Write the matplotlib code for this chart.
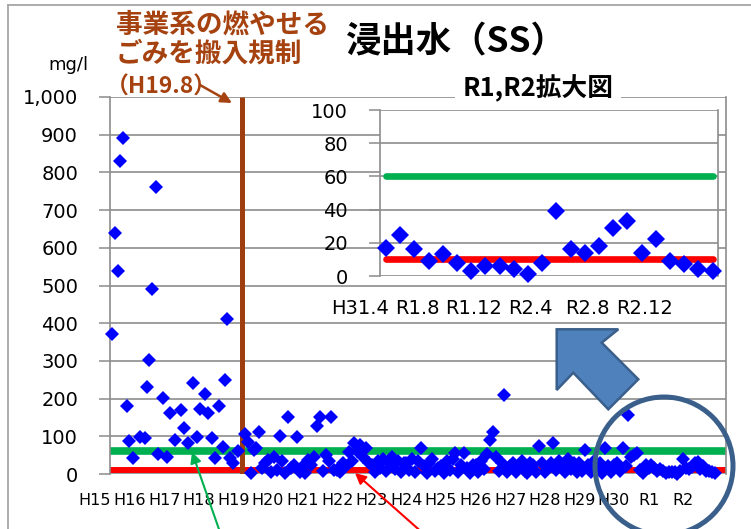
import matplotlib
matplotlib.use('Agg')
import matplotlib.pyplot as plt
from matplotlib.patches import Polygon, Circle
from matplotlib.lines import Line2D

plt.rcParams['font.family'] = ['DejaVu Sans', 'Noto Sans CJK JP']

# ---------------- data ----------------
# early samples (before the regulation), decimal fiscal year, SS mg/l
early_t = [15.49, 15.58, 15.66, 15.72, 15.81, 15.92, 15.98, 16.10, 16.30, 16.45,
           16.50, 16.56, 16.65, 16.76, 16.82, 16.97, 17.08, 17.17, 17.31, 17.49,
           17.57, 17.69, 17.83, 17.95, 18.03, 18.18, 18.27, 18.38, 18.47, 18.58,
           18.70, 18.76, 18.82, 18.90, 18.99, 19.13]
early_ss = [371, 639, 539, 830, 891, 180, 88, 42, 98, 96,
            231, 302, 490, 761, 53, 201, 45, 162, 90, 170,
            122, 82, 241, 98, 172, 212, 162, 96, 42, 180,
            72, 249, 411, 42, 29, 60]

# monthly values from H19.8 onward
regulation_t = 19.26          # H19.8 regulation (vertical line)
monthly_start = 19 + 4 / 12   # H19.8
ss_H19 = [105, 85, 3, 64, 69, 111, 15, 30]                       # Aug-Mar
ss_H20 = [37, 4, 45, 10, 101, 35, 3, 151, 16, 25, 98, 5]
ss_H21 = [20, 3, 37, 25, 45, 127, 151, 8, 50, 35, 151, 11]
ss_H22 = [11, 5, 30, 20, 58, 35, 82, 60, 77, 45, 70, 30]
ss_H23 = [24, 5, 35, 15, 40, 8, 30, 45, 12, 35, 5, 28]
ss_H24 = [30, 10, 40, 5, 35, 69, 20, 3, 30, 40, 8, 15]
ss_H25 = [20, 2, 35, 10, 40, 56, 5, 25, 56, 15, 3, 25]
ss_H26 = [25, 5, 35, 12, 53, 90, 111, 45, 8, 30, 210, 5]
ss_H27 = [20, 30, 5, 25, 35, 8, 3, 30, 25, 5, 74, 30]
ss_H28 = [5, 15, 30, 82, 10, 35, 25, 4, 40, 12, 30, 5]
ss_H29 = [30, 8, 64, 25, 5, 35, 12, 30, 3, 69, 20, 5]
ss_H30 = [25, 30, 8, 69, 20, 156, 45, 50, 56, 10, 3, 25]
# R1, R2 (H31.4 - R3.3)  -- also shown in the enlarged inset
ss_R1R2 = [17, 25, 16, 9, 13, 8, 3, 6, 6, 4, 1, 8,
           39, 16, 14, 18, 29, 33, 14, 22, 9, 7, 4, 3]

green_std = 60
red_std = 10

year_labels = ['H15', 'H16', 'H17', 'H18', 'H19', 'H20', 'H21', 'H22', 'H23',
               'H24', 'H25', 'H26', 'H27', 'H28', 'H29', 'H30', 'R1', 'R2']
year_pos = list(range(15, 33))
y_ticks = [0, 100, 200, 300, 400, 500, 600, 700, 800, 900, 1000]

inset_labels = ['H31.4', 'R1.8', 'R1.12', 'R2.4', 'R2.8', 'R2.12']
inset_label_month = [0, 4, 8, 12, 16, 20]
inset_y_ticks = [0, 20, 40, 60, 80, 100]

# ---------------- style ----------------
BLUE = '#0000FF'
GREEN = '#00B050'
RED = '#FF0000'
BROWN = '#9E3D0D'
BROWN_TXT = '#A5420F'
GRID = '#8C8C8C'
SHAPE_FILL = '#4F81BD'
SHAPE_EDGE = '#3A5F8B'

W, H = 751, 529
fig = plt.figure(figsize=(W / 100, H / 100), dpi=100)


def fr(x0, y0, x1, y1):
    return [x0 / W, 1 - y1 / H, (x1 - x0) / W, (y1 - y0) / H]


monthly = (ss_H19 + ss_H20 + ss_H21 + ss_H22 + ss_H23 + ss_H24 + ss_H25 +
           ss_H26 + ss_H27 + ss_H28 + ss_H29 + ss_H30 + ss_R1R2)
monthly_t = [monthly_start + i / 12 for i in range(len(monthly))]

# ---------------- main axes ----------------
ax = fig.add_axes(fr(110, 97, 726, 474))
ax.set_xlim(15.434, 33.237)
ax.set_ylim(0, 1000)
ax.set_yticks(y_ticks)
ax.set_yticklabels([f'{v:,}' for v in y_ticks], fontsize=14)
ax.tick_params(axis='y', length=8, width=1.1, color=GRID, pad=15)
ax.set_xticks([])
ax.grid(axis='y', color=GRID, lw=1.2, zorder=0)
ax.set_axisbelow(True)
for s in ['top', 'bottom']:
    ax.spines[s].set_visible(False)
for s in ['left', 'right']:
    ax.spines[s].set_color(GRID)
    ax.spines[s].set_linewidth(1.2)

ax.axhline(green_std, color=GREEN, lw=5.5, zorder=2)
ax.axhline(red_std, color=RED, lw=4.3, zorder=2)
ax.plot([regulation_t, regulation_t], [0, 1000], color=BROWN, lw=3.6, zorder=2,
        solid_capstyle='butt')
ax.plot(early_t, early_ss, 'D', color=BLUE, ms=7.5, mew=0, zorder=3, clip_on=False)
ax.plot(monthly_t, monthly, 'D', color=BLUE, ms=7.5, mew=0, zorder=3, clip_on=False)

xtr = ax.get_xaxis_transform()
for lab, p in zip(year_labels, year_pos):
    ax.text(p, -0.0716, lab, transform=xtr, ha='center', va='center',
            fontsize=11.5, clip_on=False)

# ---------------- inset axes ----------------
axi = fig.add_axes(fr(380, 110, 718, 276), zorder=5)
axi.set_facecolor('white')
axi.set_xlim(-0.42, 23.38)
axi.set_ylim(0, 100)
axi.set_yticks(inset_y_ticks)
axi.set_yticklabels([str(v) for v in inset_y_ticks], fontsize=14)
axi.tick_params(axis='y', length=8, width=1.1, color=GRID, pad=15)
axi.set_xticks([])
axi.grid(axis='y', color=GRID, lw=1.2, zorder=0)
axi.set_axisbelow(True)
for s in ['top', 'bottom']:
    axi.spines[s].set_visible(False)
for s in ['left', 'right']:
    axi.spines[s].set_color(GRID)
    axi.spines[s].set_linewidth(1.2)
n_in = len(ss_R1R2)
axi.plot([0, n_in - 1], [green_std, green_std], color=GREEN, lw=4.8,
         solid_capstyle='round', zorder=2)
axi.plot([0, n_in - 1], [red_std, red_std], color=RED, lw=4.8,
         solid_capstyle='round', zorder=2)
axi.plot(range(n_in), ss_R1R2, 'D', color=BLUE, ms=8.7, mew=0, zorder=3, clip_on=False)
xtri = axi.get_xaxis_transform()
for lab, m in zip(inset_labels, inset_label_month):
    axi.text(m - 1.8, -0.193, lab, transform=xtri, ha='center', va='center',
             fontsize=14, clip_on=False)

# ---------------- overlay (annotations) ----------------
ov = fig.add_axes([0, 0, 1, 1], zorder=10)
ov.set_xlim(0, W)
ov.set_ylim(H, 0)
ov.axis('off')
ov.patch.set_alpha(0)

ov.add_line(Line2D([8, 8], [5, H], color='#A6A6A6', lw=1.3))
ov.add_line(Line2D([8, W], [5, 5], color='#A6A6A6', lw=1.3))

ov.text(456, 42, '浸出水（SS）', fontsize=25.5, fontweight='bold', ha='center',
        va='center', family=['Noto Sans CJK JP', 'DejaVu Sans'])
ov.text(116, 25, '事業系の燃やせる', fontsize=19.2, fontweight='bold', color=BROWN_TXT,
        ha='left', va='center', family=['Noto Sans CJK JP'])
ov.text(116, 54, 'ごみを搬入規制', fontsize=19.2, fontweight='bold', color=BROWN_TXT,
        ha='left', va='center', family=['Noto Sans CJK JP'])
ov.text(106, 87, '（H19.8）', fontsize=16.5, fontweight='bold', color=BROWN_TXT,
        ha='left', va='center', family=['Noto Sans CJK JP'])
ov.annotate('', xy=(232, 103), xytext=(200, 85),
            arrowprops=dict(arrowstyle='-|>', color=BROWN_TXT, lw=1.8, mutation_scale=16,
                            shrinkA=0, shrinkB=0))

ov.text(68, 65, 'mg/l', fontsize=13, ha='center', va='center')

ov.text(538, 88, 'R1,R2拡大図', fontsize=18.5, fontweight='bold', ha='center', va='center',
        family=['Noto Sans CJK JP'],
        bbox=dict(boxstyle='square,pad=0.3', fc='white', ec='none'))

# block arrow pointing up-left
arrow_pts = [(556.7, 329.3), (556.7, 390), (573.3, 372.7), (608.3, 409.3),
             (638.3, 379.3), (601.7, 342.7), (618.3, 329.3)]
ov.add_patch(Polygon(arrow_pts, closed=True, fc=SHAPE_FILL, ec=SHAPE_EDGE, lw=1.8))

# circle highlighting R1/R2
ov.add_patch(Circle((664, 466), 69, fill=False, ec=SHAPE_EDGE, lw=3.6))

# green & red pointer arrows
ov.annotate('', xy=(192, 452), xytext=(221, 535),
            arrowprops=dict(arrowstyle='-|>', color=GREEN, lw=1.5, mutation_scale=16,
                            shrinkA=0, shrinkB=0))
ov.annotate('', xy=(355, 473), xytext=(425, 535),
            arrowprops=dict(arrowstyle='-|>', color=RED, lw=1.5, mutation_scale=16,
                            shrinkA=0, shrinkB=0))

fig.savefig('out.png', dpi=100)
